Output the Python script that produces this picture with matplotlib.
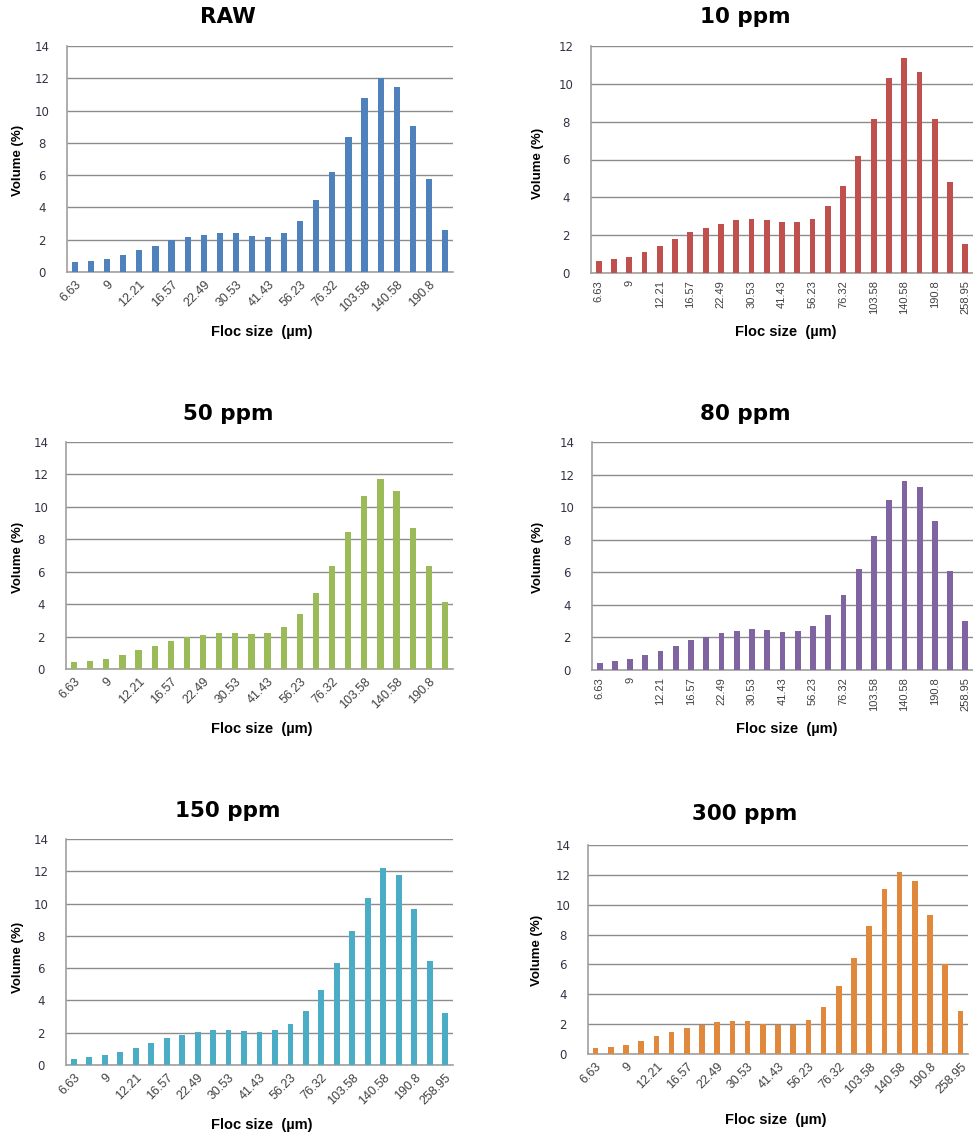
import matplotlib.pyplot as plt
import numpy as np

# floc size class labels (every second class is labelled on the axis)
size_labels = ["6.63", "9", "12.21", "16.57", "22.49", "30.53", "41.43",
               "56.23", "76.32", "103.58", "140.58", "190.8", "258.95"]

# volume (%) per size class for each dose
raw = [0.62, 0.68, 0.80, 1.03, 1.34, 1.63, 2.00, 2.14, 2.31, 2.43, 2.43, 2.24,
       2.14, 2.43, 3.19, 4.47, 6.20, 8.36, 10.77, 12.04, 11.47, 9.04, 5.74, 2.61]
ppm10 = [0.65, 0.72, 0.86, 1.11, 1.44, 1.80, 2.15, 2.38, 2.59, 2.78, 2.87, 2.78,
         2.68, 2.68, 2.87, 3.52, 4.62, 6.20, 8.14, 10.33, 11.37, 10.63, 8.14, 4.81, 1.55]
ppm50 = [0.41, 0.51, 0.64, 0.86, 1.15, 1.44, 1.75, 1.99, 2.12, 2.24, 2.24, 2.18,
         2.24, 2.61, 3.41, 4.69, 6.37, 8.45, 10.69, 11.74, 11.00, 8.68, 6.37, 4.11]
ppm80 = [0.43, 0.55, 0.68, 0.90, 1.19, 1.48, 1.82, 2.05, 2.28, 2.40, 2.52, 2.46,
         2.34, 2.40, 2.69, 3.38, 4.59, 6.21, 8.24, 10.41, 11.62, 11.23, 9.14, 6.09, 3.03]
ppm150 = [0.37, 0.49, 0.62, 0.82, 1.07, 1.36, 1.67, 1.88, 2.06, 2.16, 2.16, 2.12,
          2.06, 2.16, 2.52, 3.34, 4.62, 6.29, 8.27, 10.35, 12.21, 11.79, 9.65, 6.47, 3.22]
ppm300 = [0.40, 0.47, 0.60, 0.89, 1.18, 1.45, 1.74, 1.96, 2.16, 2.23, 2.23, 2.01,
          1.96, 1.96, 2.30, 3.14, 4.57, 6.40, 8.60, 11.08, 12.22, 11.57, 9.32, 6.06, 2.88]

W, H = 973, 1134
fig = plt.figure(figsize=(W / 100, H / 100), dpi=100)

LABEL_FONT = ["Liberation Sans Narrow", "Liberation Sans", "DejaVu Sans"]


def px(x0, y0, x1, y1):
    # pixel box (top-left origin) -> figure fraction rect
    return [x0 / W, 1 - y1 / H, (x1 - x0) / W, (y1 - y0) / H]


panels = [
    # title, data, colour, ymax, rotation, axes box, title xy, ylabel xy, xlabel xy
    ("RAW", raw, "#4F81BD", 14, 45, (67, 46, 453, 272), (228, 17), (18, 160), (262, 332)),
    ("10 ppm", ppm10, "#C0504D", 12, 90, (591, 46, 973, 273), (745, 17), (538, 163), (786, 332)),
    ("50 ppm", ppm50, "#9BBB59", 14, 45, (66, 442, 453, 669), (228, 414), (18, 557), (262, 729)),
    ("80 ppm", ppm80, "#8064A2", 14, 90, (592, 442, 973, 670), (745, 414), (538, 557), (787, 729)),
    ("150 ppm", ppm150, "#4BACC6", 14, 45, (66, 839, 453, 1065), (228, 811), (18, 957), (262, 1125)),
    ("300 ppm", ppm300, "#E0883C", 14, 45, (588, 845, 968, 1054), (745, 814), (537, 950), (776, 1120)),
]

for title, vals, color, ymax, rot, box, txy, yxy, xxy in panels:
    ax = fig.add_axes(px(*box))
    n = len(vals)
    x = np.arange(n)
    ax.bar(x, vals, width=0.38, color=color, zorder=3)
    ax.set_xlim(-0.5, n - 0.5)
    ax.set_ylim(0, ymax)
    ax.set_yticks(np.arange(0, ymax + 1, 2))
    ax.yaxis.grid(True, color="#8c8c8c", linewidth=1.0, zorder=0)
    ticks = x[::2]
    ax.set_xticks(ticks)
    if rot == 45:
        ax.set_xticklabels(size_labels[:len(ticks)], rotation=45, ha="right",
                           rotation_mode="anchor", fontsize=9, color="#404040",
                           family=["Liberation Sans", "DejaVu Sans"])
    else:
        ax.set_xticklabels(size_labels[:len(ticks)], rotation=90, ha="center",
                           va="top", fontsize=8, color="#404040",
                           family=["Liberation Sans", "DejaVu Sans"])
    ax.tick_params(axis="both", length=0)
    ax.tick_params(axis="x", pad=5)
    ax.tick_params(axis="y", pad=18, labelsize=8.5, labelcolor="#333344")
    for lbl in ax.get_yticklabels():
        lbl.set_horizontalalignment("center")
    for side in ("top", "right"):
        ax.spines[side].set_visible(False)
    ax.spines["left"].set_color("#a0a0a0")
    ax.spines["bottom"].set_color("#a0a0a0")
    ax.spines["left"].set_linewidth(1.2)
    ax.spines["bottom"].set_linewidth(1.2)

    fig.text(txy[0] / W, 1 - txy[1] / H, title, ha="center", va="center",
             fontsize=15.5, fontweight="bold")
    fig.text(yxy[0] / W, 1 - yxy[1] / H, "Volume (%)", ha="center", va="center",
             rotation=90, fontsize=9.5, fontweight="bold", family=LABEL_FONT)
    fig.text(xxy[0] / W, 1 - xxy[1] / H, "Floc size  (µm)", ha="center", va="center",
             fontsize=10.5, fontweight="bold", family=LABEL_FONT)

fig.savefig("out.png", dpi=100)
